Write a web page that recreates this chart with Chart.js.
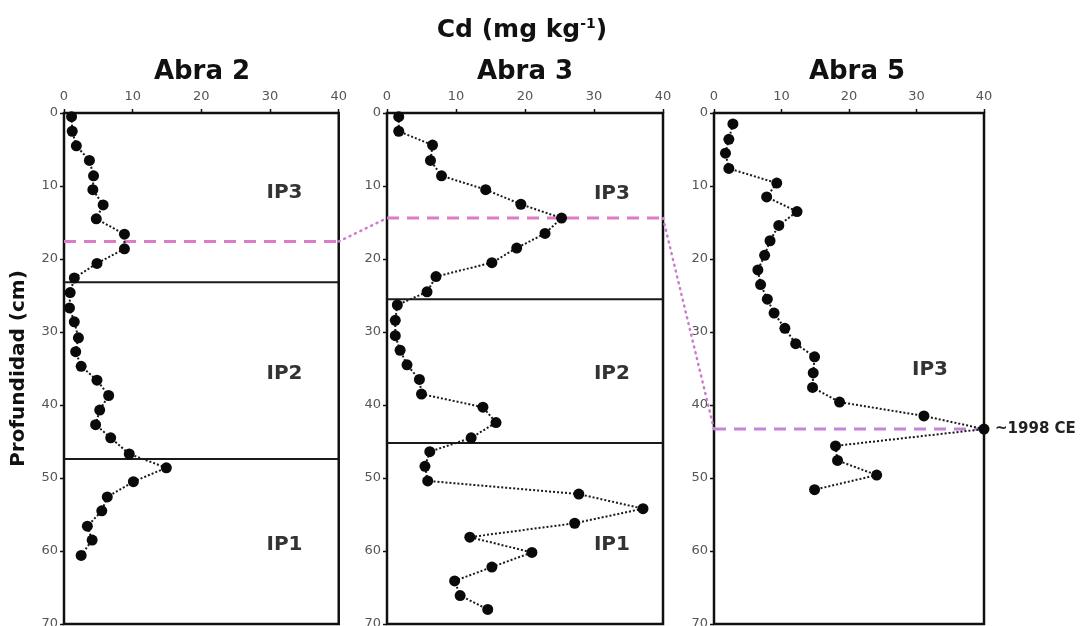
<!DOCTYPE html>
<html><head><meta charset="utf-8">
<script src="https://cdn.jsdelivr.net/npm/chart.js@4.4.1/dist/chart.umd.min.js"></script>
<style>
html,body{margin:0;padding:0;background:#fff;width:1081px;height:626px;overflow:hidden;}
#wrap{position:relative;width:1081px;height:626px;overflow:hidden;}
canvas{position:absolute;top:0;}
.t{position:absolute;font-family:"DejaVu Sans";font-weight:bold;color:#111;text-align:center;white-space:nowrap;width:300px;}
.t sup{font-size:14px;line-height:0;vertical-align:9px;}
</style></head><body>
<div id="wrap">
  <canvas id="c1" width="352" height="640" style="left:0px;width:352px;height:640px"></canvas>
  <canvas id="c2" width="328" height="640" style="left:352px;width:328px;height:640px"></canvas>
  <canvas id="c3" width="401" height="640" style="left:680px;width:401px;height:640px"></canvas>
  <canvas id="ov" width="1081" height="626" style="left:0px;width:1081px;height:626px;pointer-events:none"></canvas>
  <div class="t" style="left:372px;top:16px;font-size:25px;line-height:25px;">Cd (mg kg<sup>-1</sup>)</div>
  <div class="t" style="left:52px;top:57px;font-size:26px;line-height:26px;">Abra 2</div>
  <div class="t" style="left:375px;top:57px;font-size:26px;line-height:26px;">Abra 3</div>
  <div class="t" style="left:707px;top:57px;font-size:26px;line-height:26px;">Abra 5</div>
</div>
<script>
// ---------- data ----------
const cdTicks = [0, 10, 20, 30, 40];
const depthTicks = [0, 10, 20, 30, 40, 50, 60, 70];

const depthAbra2 = [0.5,2.5,4.5,6.5,8.6,10.5,12.6,14.5,16.6,18.6,20.6,22.6,24.6,26.7,28.6,30.8,32.7,34.7,36.6,38.7,40.7,42.7,44.5,46.7,48.6,50.5,52.6,54.5,56.6,58.5,60.6];
const cdAbra2    = [1.1,1.2,1.8,3.7,4.3,4.2,5.7,4.7,8.8,8.8,4.8,1.5,0.9,0.8,1.5,2.1,1.7,2.5,4.8,6.5,5.2,4.6,6.8,9.5,14.9,10.1,6.3,5.5,3.4,4.1,2.5];

const depthAbra3 = [0.5,2.5,4.4,6.5,8.6,10.5,12.5,14.4,16.5,18.5,20.5,22.4,24.5,26.3,28.4,30.5,32.5,34.5,36.5,38.5,40.3,42.4,44.5,46.4,48.4,50.4,52.2,54.2,56.2,58.1,60.2,62.2,64.1,66.1,68.0];
const cdAbra3    = [1.7,1.7,6.6,6.3,7.9,14.3,19.4,25.3,22.9,18.8,15.2,7.1,5.8,1.5,1.2,1.2,1.9,2.9,4.7,5.0,13.9,15.8,12.2,6.2,5.5,5.9,27.8,37.1,27.2,12.0,21.0,15.2,9.8,10.6,14.6];

const depthAbra5 = [1.5,3.6,5.5,7.6,9.6,11.5,13.5,15.4,17.5,19.5,21.5,23.5,25.5,27.4,29.5,31.6,33.4,35.6,37.6,39.6,41.5,43.3,45.6,47.6,49.6,51.6];
const cdAbra5    = [2.8,2.2,1.7,2.2,9.3,7.8,12.3,9.6,8.3,7.5,6.5,6.9,7.9,8.9,10.5,12.1,14.9,14.7,14.6,18.6,31.1,40.0,18.0,18.3,24.1,14.9];

// zone boundaries (depth, cm) and the ~1998 CE marker depth for each core
const boundariesAbra2 = [23.2, 47.4];
const boundariesAbra3 = [25.5, 45.2];
const boundariesAbra5 = [];
const markerDepth = [17.6, 14.4, 43.3];
const zoneNamesAbra2 = ['IP3', 'IP2', 'IP1'];
const zoneNamesAbra3 = ['IP3', 'IP2', 'IP1'];
const zoneNamesAbra5 = ['IP3'];
const markerLabel = '~1998 CE';

// ---------- drawing ----------
const X_MIN = cdTicks[0], X_MAX = cdTicks[cdTicks.length - 1];
const Y_MIN = depthTicks[0], Y_MAX = depthTicks[depthTicks.length - 1];
const TICK_FONT = {family: 'DejaVu Sans', size: 13};

const framePlugin = {
  id: 'frame',
  beforeDatasetsDraw(chart) {
    const {ctx, chartArea: a} = chart;
    ctx.save();
    ctx.strokeStyle = '#111';
    ctx.lineWidth = 2.5;
    ctx.strokeRect(a.left, a.top, a.right - a.left, a.bottom - a.top);
    ctx.restore();
  }
};
const zonePlugin = {
  id: 'zones',
  afterDatasetsDraw(chart, args, opts) {
    const {ctx, scales: {x, y}} = chart;
    ctx.save();
    ctx.font = 'bold 20px "DejaVu Sans"';
    ctx.fillStyle = '#333';
    ctx.textAlign = 'center';
    ctx.textBaseline = 'middle';
    (opts.items || []).forEach(it => ctx.fillText(it.text, x.getPixelForValue(it.x), y.getPixelForValue(it.y)));
    if (opts.note) {
      ctx.font = 'bold 15px "DejaVu Sans"';
      ctx.fillStyle = '#222';
      ctx.textAlign = 'left';
      ctx.fillText(opts.note.text, x.getPixelForValue(opts.note.x) + 11, y.getPixelForValue(opts.note.y));
    }
    ctx.restore();
  }
};

function makeChart(id, cfg) {
  const datasets = [{
    data: cfg.cd.map((v, i) => ({x: v, y: cfg.depth[i]})),
    showLine: true, borderColor: '#1a1a1a', borderWidth: 2, borderDash: [2, 2],
    pointRadius: 5.5, pointBackgroundColor: '#0a0a0a', pointBorderColor: '#0a0a0a', pointBorderWidth: 0,
    clip: false
  }];
  cfg.boundaries.forEach(b => datasets.push({
    data: [{x: X_MIN, y: b}, {x: X_MAX, y: b}], showLine: true,
    borderColor: '#1a1a1a', borderWidth: 2, pointRadius: 0
  }));
  datasets.push({
    data: [{x: X_MIN, y: cfg.marker}, {x: X_MAX, y: cfg.marker}], showLine: true,
    borderColor: cfg.markerColor, borderWidth: 3, borderDash: [12, 8], pointRadius: 0
  });
  const axisGrid = {display: true, drawOnChartArea: false, drawTicks: true, tickLength: 4, tickColor: '#111', tickWidth: 1.5};
  return new Chart(document.getElementById(id), {
    type: 'scatter',
    data: {datasets},
    plugins: [framePlugin, zonePlugin],
    options: {
      responsive: false, animation: false, devicePixelRatio: 1, events: [],
      layout: {padding: {left: 0, right: cfg.padRight, top: 0, bottom: 16}},
      plugins: {
        legend: {display: false}, tooltip: {enabled: false},
        zones: {items: cfg.zones, note: cfg.note}
      },
      scales: {
        x: {
          type: 'linear', position: 'top', min: X_MIN, max: X_MAX,
          ticks: {stepSize: cdTicks[1] - cdTicks[0], color: '#555', font: TICK_FONT, padding: 5, maxRotation: 0},
          grid: axisGrid, border: {display: false},
          afterFit(s) { s.height = 113; }
        },
        y: {
          type: 'linear', reverse: true, min: Y_MIN, max: Y_MAX,
          ticks: {stepSize: depthTicks[1] - depthTicks[0], color: '#555', font: TICK_FONT, padding: 2},
          grid: axisGrid, border: {display: false},
          title: {display: !!cfg.yTitle, text: cfg.yTitle || '', color: '#111',
                  font: {family: 'DejaVu Sans', size: 20, weight: 'bold'}, padding: {top: 7, bottom: 0}},
          afterFit(s) { s.width = cfg.yWidth; }
        }
      }
    }
  });
}

const ch1 = makeChart('c1', {
  cd: cdAbra2, depth: depthAbra2, boundaries: boundariesAbra2, marker: markerDepth[0], markerColor: '#dc7cc4',
  yWidth: 64, padRight: 11, yTitle: 'Profundidad (cm)',
  zones: [{text: zoneNamesAbra2[0], x: 32.1, y: 10.9}, {text: zoneNamesAbra2[1], x: 32.1, y: 35.7}, {text: zoneNamesAbra2[2], x: 32.1, y: 59.1}]
});
const ch2 = makeChart('c2', {
  cd: cdAbra3, depth: depthAbra3, boundaries: boundariesAbra3, marker: markerDepth[1], markerColor: '#dc7cc4',
  yWidth: 35, padRight: 17,
  zones: [{text: zoneNamesAbra3[0], x: 32.6, y: 11.0}, {text: zoneNamesAbra3[1], x: 32.6, y: 35.7}, {text: zoneNamesAbra3[2], x: 32.6, y: 59.2}]
});
const ch3 = makeChart('c3', {
  cd: cdAbra5, depth: depthAbra5, boundaries: boundariesAbra5, marker: markerDepth[2], markerColor: '#c583dc',
  yWidth: 34, padRight: 97,
  zones: [{text: zoneNamesAbra5[0], x: 32.0, y: 35.2}],
  note: {text: markerLabel, x: X_MAX, y: markerDepth[2]}
});

// connectors between the marker lines of neighbouring cores
function pagePoint(chart, xv, yv) {
  const off = chart.canvas.offsetLeft;
  return [off + chart.scales.x.getPixelForValue(xv), chart.scales.y.getPixelForValue(yv)];
}
const ov = document.getElementById('ov').getContext('2d');
ov.save();
ov.strokeStyle = '#cc7ccc';
ov.lineWidth = 2.5;
ov.lineCap = 'round';
ov.setLineDash([1, 5]);
[[ch1, markerDepth[0], ch2, markerDepth[1]], [ch2, markerDepth[1], ch3, markerDepth[2]]].forEach(([a, da, b, db]) => {
  const p = pagePoint(a, X_MAX, da), q = pagePoint(b, X_MIN, db);
  ov.beginPath(); ov.moveTo(p[0], p[1]); ov.lineTo(q[0], q[1]); ov.stroke();
});
ov.restore();
</script>
</body></html>
